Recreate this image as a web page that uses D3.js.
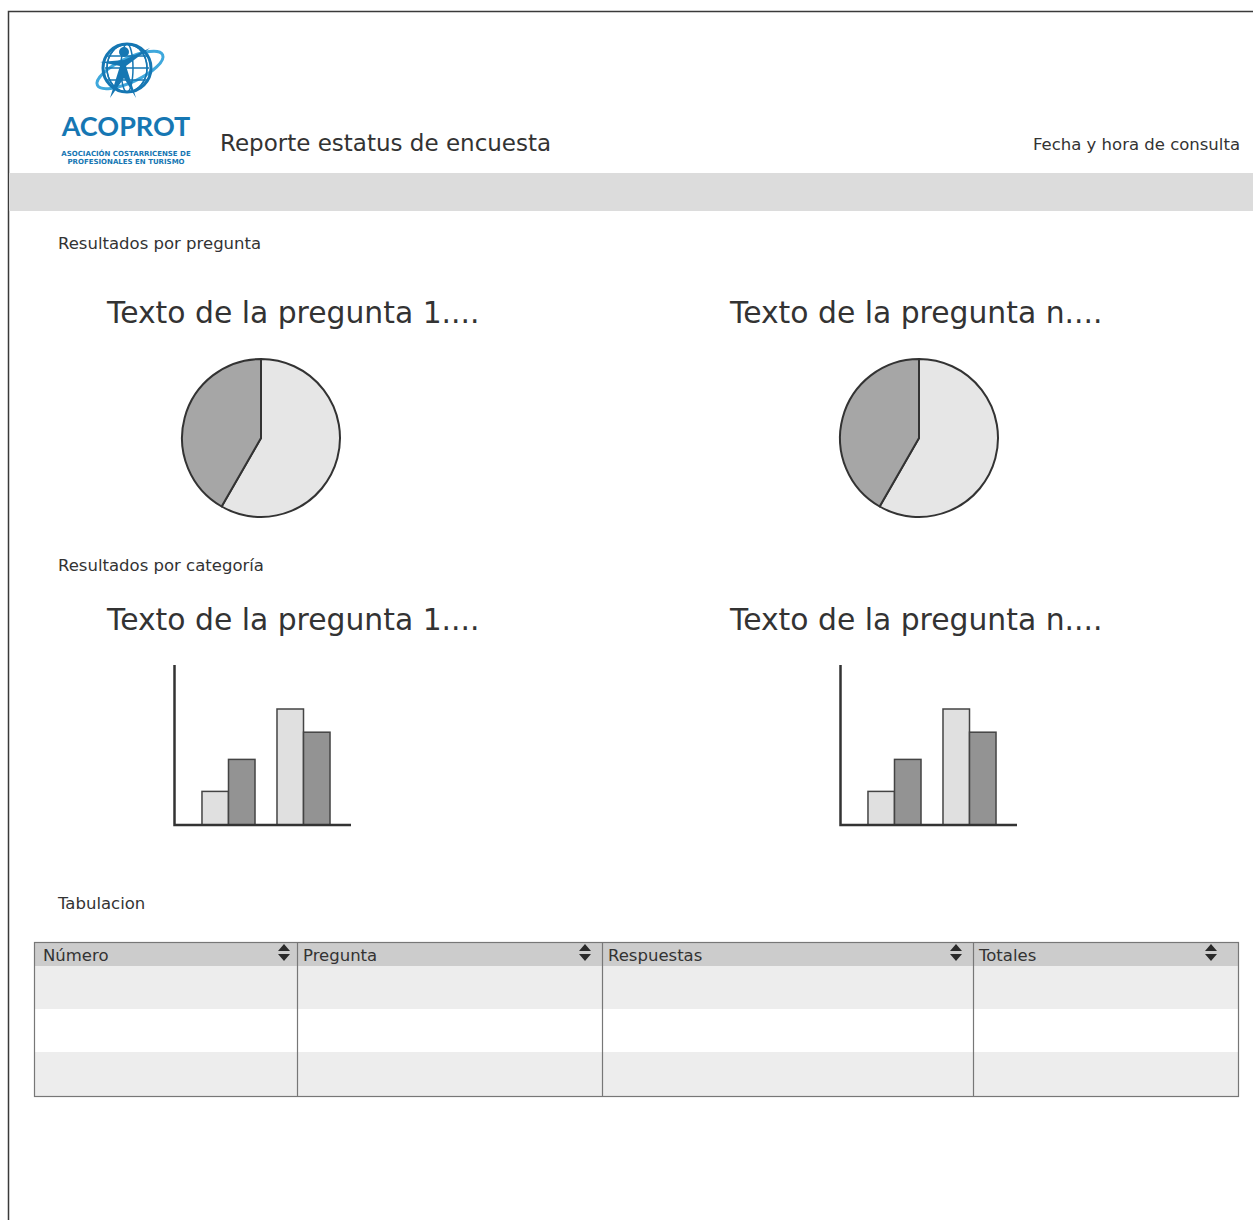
<!DOCTYPE html>
<html>
<head>
<meta charset="utf-8">
<script src="https://cdn.jsdelivr.net/npm/d3@7"></script>
<style>
  body { margin: 0; background: #fff; }
  text { font-family: "DejaVu Sans", sans-serif; fill: #333; }
</style>
</head>
<body>
<svg id="page" width="1253" height="1220"></svg>
<script>
// Reporte estatus de encuesta - maqueta

// Datos de las gráficas
var preguntas = ["Texto de la pregunta 1....", "Texto de la pregunta n...."];
var respuestasPie = [58.3, 41.7];          // claro, oscuro
var grupos = ["G1", "G2"];
var serieClara = [21, 72.5];
var serieOscura = [41, 58];
var columnas = ["Número", "Pregunta", "Respuestas", "Totales"];
var filas = [["", "", "", ""], ["", "", "", ""], ["", "", "", ""]];

var svg = d3.select("#page");

// Cadre de la page
svg.append("rect")
    .attr("x", 8.5).attr("y", 11.5)
    .attr("width", 1260).attr("height", 1220)
    .attr("fill", "#fff")
    .attr("stroke", "#3a3a3a")
    .attr("stroke-width", 1.5);

// Logo
function drawLogo(g)
{
    var blue = "#1677b3";
    var light = "#3fa8dc";
    // orbite
    g.append("ellipse")
        .attr("cx", 130).attr("cy", 70).attr("rx", 36).attr("ry", 12)
        .attr("transform", "rotate(-25,130,70)")
        .attr("fill", "none").attr("stroke", light).attr("stroke-width", 3);
    // globe
    g.append("circle").attr("cx", 127).attr("cy", 68).attr("r", 24)
        .attr("fill", "none").attr("stroke", blue).attr("stroke-width", 3);
    [-14, 0, 14].forEach(d => {
        g.append("ellipse").attr("cx", 127).attr("cy", 68)
            .attr("rx", Math.abs(d) + 6).attr("ry", 24)
            .attr("fill", "none").attr("stroke", blue).attr("stroke-width", 1.5);
    });
    [-12, 0, 12].forEach(d => {
        g.append("line").attr("x1", 105).attr("x2", 149)
            .attr("y1", 68 + d).attr("y2", 68 + d)
            .attr("stroke", blue).attr("stroke-width", 1.5);
    });
    // personnage
    g.append("circle").attr("cx", 124).attr("cy", 52).attr("r", 5).attr("fill", blue);
    g.append("path")
        .attr("d", "M100,62 L124,60 L150,48 L126,66 L136,98 L124,78 L110,98 L120,66 Z")
        .attr("fill", blue);

    g.append("text")
        .attr("x", 126).attr("y", 136)
        .attr("text-anchor", "middle")
        .style("font-family", "Lato, sans-serif")
        .attr("font-size", 27).attr("font-weight", 700)
        .style("fill", blue)
        .text("ACOPROT");
    g.append("text")
        .attr("x", 126).attr("y", 156)
        .attr("text-anchor", "middle")
        .attr("font-size", 7).attr("font-weight", 700)
        .style("fill", blue)
        .text("ASOCIACIÓN COSTARRICENSE DE");
    g.append("text")
        .attr("x", 126).attr("y", 164)
        .attr("text-anchor", "middle")
        .attr("font-size", 7).attr("font-weight", 700)
        .style("fill", blue)
        .text("PROFESIONALES EN TURISMO");
}
drawLogo(svg.append("g"));

// En-tête
svg.append("text")
    .attr("x", 220).attr("y", 151)
    .attr("font-size", 23)
    .text("Reporte estatus de encuesta");
svg.append("text")
    .attr("x", 1240).attr("y", 150)
    .attr("text-anchor", "end")
    .attr("font-size", 16.5)
    .text("Fecha y hora de consulta");
svg.append("rect")
    .attr("x", 9).attr("y", 173)
    .attr("width", 1244).attr("height", 38)
    .attr("fill", "#dcdcdc");

// Titres de section
function sectionLabel(y, txt)
{
    svg.append("text")
        .attr("x", 58).attr("y", y)
        .attr("font-size", 16.5)
        .text(txt);
}
sectionLabel(249, "Resultados por pregunta");
sectionLabel(571, "Resultados por categoría");
sectionLabel(909, "Tabulacion");

// Titres des questions
function titre(x, y, txt)
{
    svg.append("text")
        .attr("x", x).attr("y", y)
        .attr("font-size", 29.8)
        .text(txt);
}

// Pastel
var pie = d3.pie().sort(null).value(d => d);
var arc = d3.arc().innerRadius(0).outerRadius(79);
var pieColors = ["#e6e6e6", "#a6a6a6"];

function drawPie(cx, cy)
{
    var g = svg.append("g").attr("transform", `translate(${cx},${cy})`);
    g.selectAll("path")
        .data(pie(respuestasPie))
        .enter()
        .append("path")
        .attr("d", arc)
        .attr("fill", (d, i) => pieColors[i])
        .attr("stroke", "#333")
        .attr("stroke-width", 2)
        .attr("stroke-linejoin", "round");
}

// Barres
var y = d3.scaleLinear().domain([0, 100]).range([825, 665]);
var xGroup = d3.scaleBand().domain(grupos).range([0, 184])
    .paddingInner(0.293).paddingOuter(0.373);
var xSub = d3.scaleBand().domain(["clara", "oscura"]).range([0, xGroup.bandwidth()]);

function drawBars(x0)
{
    var g = svg.append("g").attr("transform", `translate(${x0},0)`);
    var datos = [];
    grupos.forEach((gr, i) => {
        datos.push({grupo: gr, serie: "clara", valor: serieClara[i]});
        datos.push({grupo: gr, serie: "oscura", valor: serieOscura[i]});
    });
    g.selectAll("rect")
        .data(datos)
        .enter()
        .append("rect")
        .attr("x", d => xGroup(d.grupo) + xSub(d.serie))
        .attr("y", d => y(d.valor))
        .attr("width", xSub.bandwidth())
        .attr("height", d => y(0) - y(d.valor))
        .attr("fill", d => d.serie === "clara" ? "#e0e0e0" : "#939393")
        .attr("stroke", "#444")
        .attr("stroke-width", 1.5);
    // ejes
    g.append("path")
        .attr("d", `M0.5,${y(100)} L0.5,${y(0)} L177,${y(0)}`)
        .attr("fill", "none")
        .attr("stroke", "#333")
        .attr("stroke-width", 2.5);
}

titre(107, 323, preguntas[0]);
titre(730, 323, preguntas[1]);
drawPie(261, 438);
drawPie(919, 438);
titre(107, 630, preguntas[0]);
titre(730, 630, preguntas[1]);
drawBars(174);
drawBars(840);

// Tableau
var colX = [34, 297, 602, 973, 1238];
var rowY = [942, 966, 1009, 1052, 1096];
var flechaX = [284, 585, 956, 1211];
var tabla = svg.append("g");

tabla.append("rect")
    .attr("x", colX[0]).attr("y", rowY[0])
    .attr("width", colX[4] - colX[0]).attr("height", rowY[1] - rowY[0])
    .attr("fill", "#cccccc");
filas.forEach((f, i) => {
    tabla.append("rect")
        .attr("x", colX[0]).attr("y", rowY[i + 1])
        .attr("width", colX[4] - colX[0]).attr("height", rowY[i + 2] - rowY[i + 1])
        .attr("fill", i % 2 === 0 ? "#ededed" : "#ffffff");
});
colX.slice(1, 4).forEach(cx => {
    tabla.append("line")
        .attr("x1", cx + 0.5).attr("x2", cx + 0.5)
        .attr("y1", rowY[0]).attr("y2", rowY[4])
        .attr("stroke", "#777").attr("stroke-width", 1.2);
});
tabla.append("rect")
    .attr("x", colX[0] + 0.5).attr("y", rowY[0] + 0.5)
    .attr("width", colX[4] - colX[0]).attr("height", rowY[4] - rowY[0])
    .attr("fill", "none")
    .attr("stroke", "#777").attr("stroke-width", 1.2);

columnas.forEach((c, i) => {
    tabla.append("text")
        .attr("x", colX[i] + (i === 0 ? 9 : 6)).attr("y", rowY[0] + 19)
        .attr("font-size", 16.5)
        .text(c);
    // flèches de tri
    var ax = flechaX[i];
    tabla.append("path")
        .attr("d", `M${ax - 6},${rowY[0] + 9} L${ax},${rowY[0] + 2} L${ax + 6},${rowY[0] + 9} Z`
            + ` M${ax - 6},${rowY[0] + 12} L${ax},${rowY[0] + 19} L${ax + 6},${rowY[0] + 12} Z`)
        .attr("fill", "#2a2a2a");
});
</script>
</body>
</html>
